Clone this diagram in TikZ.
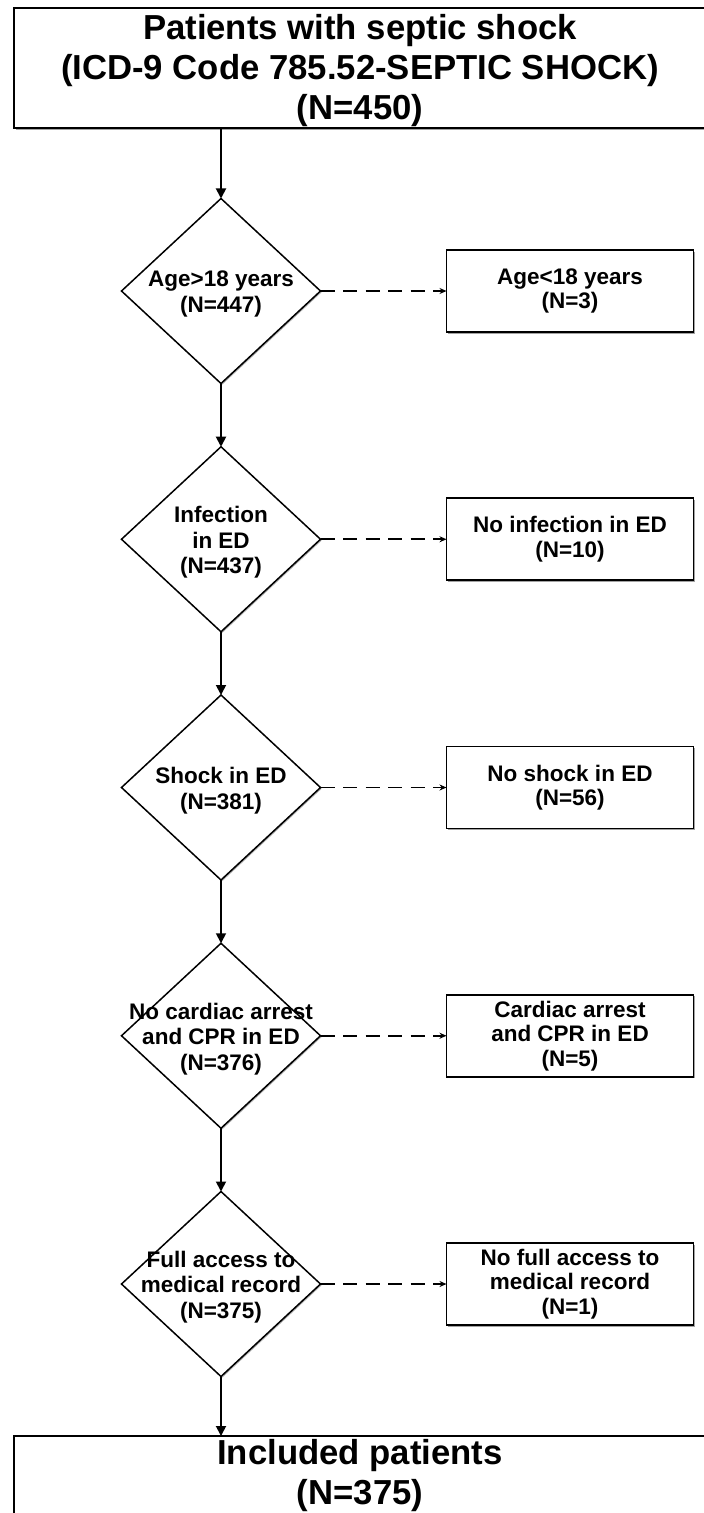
\documentclass[tikz,border=0pt]{standalone}
\usepackage{fontspec}
\setmainfont{Liberation Sans}
\usetikzlibrary{shapes.geometric,arrows.meta,positioning,shadows}
\tikzset{
  bigbox/.style={rectangle,draw=black,line width=1.8pt,fill=white,
    minimum width=692pt,minimum height=120pt,inner sep=0pt,outer sep=0pt,
    drop shadow={shadow xshift=1.5pt,shadow yshift=-1.5pt,fill=black!60,opacity=0.6}},
  bigtext/.style={align=center,inner sep=0pt,font=\fontsize{34.7pt}{40pt}\selectfont\bfseries},
  decision/.style={diamond,draw=black,line width=1.5pt,fill=white,
    minimum width=199pt,minimum height=185pt,inner sep=0pt,outer sep=0pt,
    drop shadow={shadow xshift=1.2pt,shadow yshift=-1.2pt,fill=black!60,opacity=0.5}},
  dtext/.style={align=center,inner sep=0pt,yshift=-3pt,font=\fontsize{22.5pt}{25.5pt}\selectfont\bfseries},
  exclbox/.style={rectangle,draw=black,line width=1.8pt,fill=white,
    minimum width=247pt,minimum height=82pt,inner sep=0pt,outer sep=0pt,
    align=center,font=\fontsize{22.5pt}{24.5pt}\selectfont\bfseries,
    drop shadow={shadow xshift=1.5pt,shadow yshift=-1.5pt,fill=black!60,opacity=0.6}},
  flow/.style={-{Triangle[length=10pt,width=10pt]},line width=1.8pt},
  excl/.style={-{Stealth[length=7pt,width=6pt]},line width=1.8pt,dash pattern=on 14pt off 8.5pt},
}
\begin{document}
\begin{tikzpicture}[x=1pt,y=-1pt,node distance=63.25pt and 126pt]
  \clip (0,0) rectangle (704,1513);
  \useasboundingbox (0,0) rectangle (704,1513);
  % inclusion steps
  \node[bigbox,label={[bigtext,yshift=-3pt]center:{Patients with septic shock\\(ICD-9 Code 785.52-SEPTIC SHOCK)\\(N=450)}}] (start) at (360,68) {};
  \node[decision,label={[dtext]center:{Age>18 years\\(N=447)}}] (age) at (221,291) {};
  \node[decision,below=of age,label={[dtext]center:{Infection\\in ED\\(N=437)}}] (infect) {};
  \node[decision,below=of infect,label={[dtext]center:{Shock in ED\\(N=381)}}] (shock) {};
  \node[decision,below=of shock,label={[dtext]center:{No cardiac arrest\\and CPR in ED\\(N=376)}}] (arrest) {};
  \node[decision,below=of arrest,label={[dtext]center:{Full access to\\medical record\\(N=375)}}] (access) {};
  \node[bigbox,label={[bigtext,yshift=20pt]center:{Included patients\\(N=375)}}] (incl) at (360,1496) {};
  % excluded patients
  \node[exclbox,right=of age] (ageout) {Age<18 years\\(N=3)};
  \node[exclbox,right=of infect] (infectout) {No infection in ED\\(N=10)};
  \node[exclbox,right=of shock] (shockout) {No shock in ED\\(N=56)};
  \node[exclbox,right=of arrest] (arrestout) {Cardiac arrest\\and CPR in ED\\(N=5)};
  \node[exclbox,right=of access] (accessout) {No full access to\\medical record\\(N=1)};
  % connectors
  \draw[flow] (start.south -| age) -- (age);
  \draw[flow] (age) -- (infect);
  \draw[flow] (infect) -- (shock);
  \draw[flow] (shock) -- (arrest);
  \draw[flow] (arrest) -- (access);
  \draw[flow] (access) -- (access |- incl.north);
  \draw[excl] (age) -- (ageout);
  \draw[excl] (infect) -- (infectout);
  \draw[excl] (shock) -- (shockout);
  \draw[excl] (arrest) -- (arrestout);
  \draw[excl] (access) -- (accessout);
\end{tikzpicture}
\end{document}
